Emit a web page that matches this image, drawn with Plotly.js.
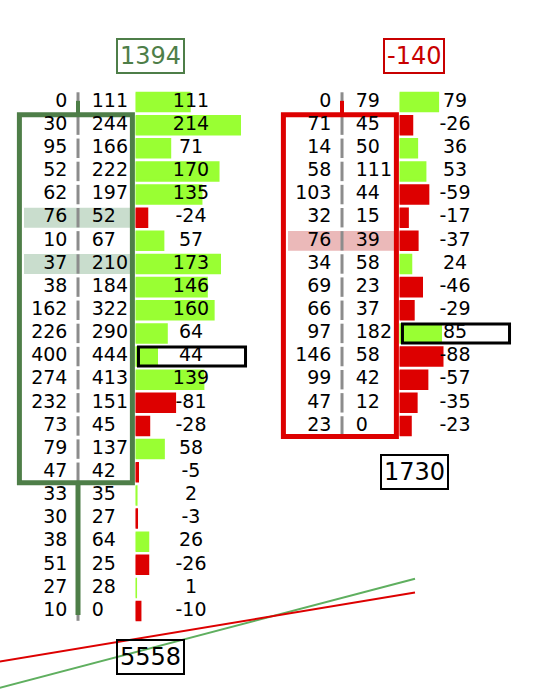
<!DOCTYPE html>
<html>
<head>
<meta charset="utf-8">
<script src="https://cdn.plot.ly/plotly-3.0.1.min.js"></script>
<style>
  html, body { margin: 0; padding: 0; background: #ffffff; }
  #chart { width: 546px; height: 694px; }
</style>
</head>
<body>
<div id="chart"></div>
<script>
// Footprint (bid x ask) chart for two bars with a per-row delta histogram.

// ---- bar 1 (price rows from the high down to the low) ----
const bar1Bid   = [0, 30, 95, 52, 62, 76, 10, 37, 38, 162, 226, 400, 274, 232, 73, 79, 47, 33, 30, 38, 51, 27, 10];
const bar1Ask   = [111, 244, 166, 222, 197, 52, 67, 210, 184, 322, 290, 444, 413, 151, 45, 137, 42, 35, 27, 64, 25, 28, 0];
const bar1Delta = [111, 214, 71, 170, 135, -24, 57, 173, 146, 160, 64, 44, 139, -81, -28, 58, -5, 2, -3, 26, -26, 1, -10];
const bar1Marked = [5, 7];

// ---- bar 2 ----
const bar2Bid   = [0, 71, 14, 58, 103, 32, 76, 34, 69, 66, 97, 146, 99, 47, 23];
const bar2Ask   = [79, 45, 50, 111, 44, 15, 39, 58, 23, 37, 182, 58, 42, 12, 0];
const bar2Delta = [79, -26, 36, 53, -59, -17, -37, 24, -46, -29, 85, -88, -57, -35, -23];
const bar2Marked = [6];

// ---- bar summaries ----
const barDeltaTotal  = [1394, -140];
const barVolumeTotal = [5558, 1730];
const barBodyTop     = [1, 1];     // first row of the body
const barBodyBottom  = [16, 14];   // last row of the body
const barHighRow     = [0, 0];
const barLowRow      = [22, 14];
const barUp          = [true, false];

// ---- running lines across the bars ----
const trendX      = [-0.5, 1.2765];
const trendGreenY = [25.93, 20.60];
const trendRedY   = [24.57, 21.20];

// ---- styling ----
const FONT = 'DejaVu Sans';
const GREEN_BODY = '#4E7E48';
const RED = '#DD0000';
const RED_TEXT = '#C80000';
const LIME = '#99FF33';
const HL_GREEN = '#C9DDCD';
const HL_RED = '#EBB9B9';
const SEP = '#8C8C8C';

// x axis is measured in bar slots (bar 1 at 0, bar 2 at 1); y axis in price rows
const X_RANGE = [-0.2955, 1.7727];
const Y_RANGE = [25.583, -4.408];
const BID_X = -0.040, ASK_X = 0.052;
const BAR_START = 0.218, DELTA_TEXT_X = 0.428;
const BODY_L = -0.222, BODY_R = 0.206;
const HL_L = -0.2045, HL_R = 0.199;
const POC_L = 0.229, POC_R = 0.6345;
const HEADER_X = 0.273;
const DELTA_UNITS_PER_SLOT = 541;   // delta histogram scale

const bars = [
  { bid: bar1Bid, ask: bar1Ask, delta: bar1Delta, marked: bar1Marked },
  { bid: bar2Bid, ask: bar2Ask, delta: bar2Delta, marked: bar2Marked }
];

const traces = [];
const shapes = [];
const annotations = [];
const layoutAxes = {};

function xFrac(v) { return (v - X_RANGE[0]) / (X_RANGE[1] - X_RANGE[0]); }

// running lines
traces.push({ type: 'scatter', mode: 'lines', x: trendX, y: trendGreenY, xaxis: 'x', yaxis: 'y',
  line: { color: '#5FAF5F', width: 2 }, hoverinfo: 'skip', showlegend: false });
traces.push({ type: 'scatter', mode: 'lines', x: trendX, y: trendRedY, xaxis: 'x', yaxis: 'y',
  line: { color: RED, width: 2 }, hoverinfo: 'skip', showlegend: false });

bars.forEach((b, c) => {
  const rows = b.bid.map((_, i) => i);
  const axId = 'x' + (c + 2);
  const color = barUp[c] ? GREEN_BODY : RED;

  // marked rows
  b.marked.forEach(r => {
    shapes.push({ type: 'rect', xref: 'x', yref: 'y', layer: 'below',
      x0: c + HL_L, x1: c + HL_R, y0: r - 0.43, y1: r + 0.43,
      fillcolor: barUp[c] ? HL_GREEN : HL_RED, line: { width: 0 } });
  });

  // bid | ask separators
  rows.forEach(r => {
    shapes.push({ type: 'line', xref: 'x', yref: 'y', layer: 'below',
      x0: c, x1: c, y0: r - 0.42, y1: r + 0.42, line: { color: SEP, width: 3 } });
  });

  // wicks
  shapes.push({ type: 'line', xref: 'x', yref: 'y', layer: 'below',
    x0: c, x1: c, y0: barHighRow[c] - 0.05, y1: barBodyTop[c] - 0.45,
    line: { color: color, width: 4 } });
  if (barLowRow[c] > barBodyBottom[c]) {
    shapes.push({ type: 'line', xref: 'x', yref: 'y', layer: 'below',
      x0: c, x1: c, y0: barBodyBottom[c] + 0.45, y1: barLowRow[c] + 0.17,
      line: { color: color, width: 5 } });
  }

  // body
  shapes.push({ type: 'rect', xref: 'x', yref: 'y', layer: 'below',
    x0: c + BODY_L, x1: c + BODY_R, y0: barBodyTop[c] - 0.45, y1: barBodyBottom[c] + 0.45,
    line: { color: color, width: 5 }, fillcolor: 'rgba(0,0,0,0)' });

  // bid and ask numbers
  traces.push({ type: 'scatter', mode: 'text', xaxis: 'x', yaxis: 'y',
    x: rows.map(() => c + BID_X), y: rows, text: b.bid.map(String),
    textposition: 'middle left', textfont: { family: FONT, size: 19, color: '#000' },
    cliponaxis: false, hoverinfo: 'skip', showlegend: false });
  traces.push({ type: 'scatter', mode: 'text', xaxis: 'x', yaxis: 'y',
    x: rows.map(() => c + ASK_X), y: rows, text: b.ask.map(String),
    textposition: 'middle right', textfont: { family: FONT, size: 19, color: '#000' },
    cliponaxis: false, hoverinfo: 'skip', showlegend: false });

  // delta histogram on its own axis
  const start = c + BAR_START;
  layoutAxes['xaxis' + (c + 2)] = {
    domain: [xFrac(start), 1], anchor: 'y',
    range: [0, (X_RANGE[1] - start) * DELTA_UNITS_PER_SLOT],
    visible: false, fixedrange: true
  };
  const barColors = b.delta.map(d => d >= 0 ? LIME : RED);
  traces.push({ type: 'bar', orientation: 'h', xaxis: axId, yaxis: 'y',
    x: b.delta.map(d => Math.abs(d)), y: rows, width: 0.8,
    marker: { color: barColors, line: { color: barColors, width: 2 } },
    hoverinfo: 'skip', showlegend: false });
  traces.push({ type: 'scatter', mode: 'text', xaxis: axId, yaxis: 'y',
    x: rows.map(() => (DELTA_TEXT_X - BAR_START) * DELTA_UNITS_PER_SLOT), y: rows,
    text: b.delta.map(String), textposition: 'middle center',
    textfont: { family: FONT, size: 19, color: '#000' },
    cliponaxis: false, hoverinfo: 'skip', showlegend: false });

  // row with the largest traded volume
  let poc = 0, best = -1;
  rows.forEach(r => { const v = b.bid[r] + b.ask[r]; if (v > best) { best = v; poc = r; } });
  shapes.push({ type: 'rect', xref: 'x', yref: 'y', layer: 'above',
    x0: c + POC_L, x1: c + POC_R, y0: poc - 0.41, y1: poc + 0.41,
    line: { color: '#000', width: 3 }, fillcolor: 'rgba(0,0,0,0)' });

  // bar delta above, bar volume below
  const dCol = barDeltaTotal[c] >= 0 ? GREEN_BODY : RED_TEXT;
  annotations.push({ xref: 'x', yref: 'y', x: c + HEADER_X, y: barHighRow[c] - 2,
    text: String(barDeltaTotal[c]), showarrow: false,
    font: { family: FONT, size: 24, color: dCol },
    bordercolor: dCol, borderwidth: 2, borderpad: 2 });
  annotations.push({ xref: 'x', yref: 'y', x: c + HEADER_X, y: barLowRow[c] + 2,
    text: String(barVolumeTotal[c]), showarrow: false,
    font: { family: FONT, size: 24, color: '#000' },
    bordercolor: '#000', borderwidth: 2, borderpad: 2 });
});

const layout = Object.assign({
  width: 546, height: 694,
  margin: { l: 0, r: 0, t: 0, b: 0, pad: 0 },
  paper_bgcolor: '#ffffff', plot_bgcolor: 'rgba(0,0,0,0)',
  showlegend: false,
  xaxis: { domain: [0, 1], range: X_RANGE, visible: false, fixedrange: true },
  yaxis: { domain: [0, 1], range: Y_RANGE, visible: false, fixedrange: true },
  shapes: shapes,
  annotations: annotations,
  bargap: 0
}, layoutAxes);

Plotly.newPlot('chart', traces, layout, { staticPlot: true, displayModeBar: false });
</script>
</body>
</html>
